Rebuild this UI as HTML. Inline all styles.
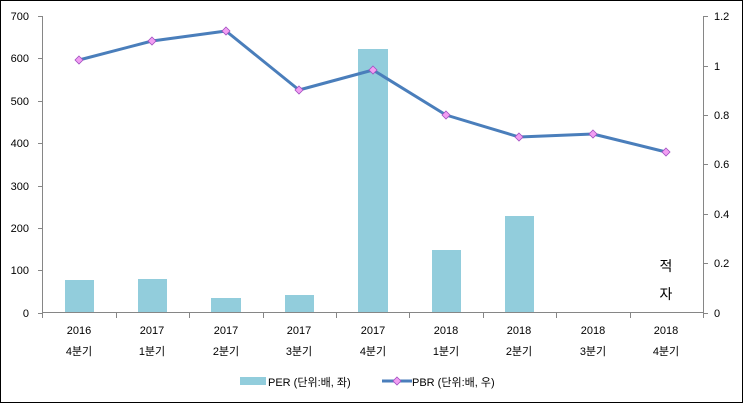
<!DOCTYPE html>
<html><head><meta charset="utf-8"><style>
body{margin:0;background:#fff}
svg text{font-family:"Liberation Sans","Noto Sans CJK KR",sans-serif;font-size:11px;fill:#000}
</style></head><body>
<svg width="743" height="403" xmlns="http://www.w3.org/2000/svg">
<rect x="0.5" y="0.5" width="742" height="402" fill="#fff" stroke="#000"/>
<g fill="#92cddc">
<rect x="65" y="280" width="29" height="33"/>
<rect x="138" y="279" width="29" height="34"/>
<rect x="211" y="298" width="30" height="15"/>
<rect x="285" y="295" width="29" height="18"/>
<rect x="358" y="49" width="30" height="264"/>
<rect x="432" y="250" width="29" height="63"/>
<rect x="505" y="216" width="29" height="97"/>
</g>
<g stroke="#868686" stroke-width="1" fill="none">
<path d="M42.5 16V313M38 16.5h5M38 58.5h5M38 101.5h5M38 143.5h5M38 186.5h5M38 228.5h5M38 270.5h5M38 313.5h5"/>
<path d="M703.5 16V313M703 16.5h5M703 66.5h5M703 115.5h5M703 164.5h5M703 214.5h5M703 263.5h5M703 313.5h5"/>
<path d="M42 312.5H704M42.5 312v6M116.5 312v6M189.5 312v6M263.5 312v6M336.5 312v6M409.5 312v6M483.5 312v6M556.5 312v6M630.5 312v6M703.5 312v6"/>
</g>
<g text-anchor="end">
<text x="29" y="20">700</text><text x="29" y="62">600</text><text x="29" y="105">500</text><text x="29" y="147">400</text><text x="29" y="190">300</text><text x="29" y="232">200</text><text x="29" y="274">100</text><text x="29" y="317">0</text>
</g>
<g>
<text x="714" y="20">1.2</text><text x="714" y="70">1</text><text x="714" y="119">0.8</text><text x="714" y="168">0.6</text><text x="714" y="218">0.4</text><text x="714" y="267">0.2</text><text x="714" y="317">0</text>
</g>
<g text-anchor="middle" font-size="12">
<text x="79" y="334">2016</text><text x="79" y="355">4분기</text>
<text x="152" y="334">2017</text><text x="152" y="355">1분기</text>
<text x="226" y="334">2017</text><text x="226" y="355">2분기</text>
<text x="299" y="334">2017</text><text x="299" y="355">3분기</text>
<text x="373" y="334">2017</text><text x="373" y="355">4분기</text>
<text x="446" y="334">2018</text><text x="446" y="355">1분기</text>
<text x="519" y="334">2018</text><text x="519" y="355">2분기</text>
<text x="593" y="334">2018</text><text x="593" y="355">3분기</text>
<text x="666" y="334">2018</text><text x="666" y="355">4분기</text>
<text x="666" y="271" style="font-size:14px">적</text>
<text x="666" y="299" style="font-size:14px">자</text>
</g>
<polyline points="79,60 152,41 226,31 299,90 373,70 446,115 519,137 593,134 666,152" fill="none" stroke="#4a7ebb" stroke-width="3" stroke-linejoin="round"/>
<g fill="#f29ef2" stroke="#a050c0" stroke-width="0.8">
<path d="M79 56l4 4-4 4-4-4z"/><path d="M152 37l4 4-4 4-4-4z"/><path d="M226 27l4 4-4 4-4-4z"/><path d="M299 86l4 4-4 4-4-4z"/><path d="M373 66l4 4-4 4-4-4z"/><path d="M446 111l4 4-4 4-4-4z"/><path d="M519 133l4 4-4 4-4-4z"/><path d="M593 130l4 4-4 4-4-4z"/><path d="M666 148l4 4-4 4-4-4z"/>
</g>
<rect x="240" y="377" width="26" height="8" fill="#92cddc"/>
<text x="268" y="386">PER (단위:배, 좌)</text>
<line x1="382" y1="381" x2="412" y2="381" stroke="#4a7ebb" stroke-width="3"/>
<path d="M397 377l4 4-4 4-4-4z" fill="#f29ef2" stroke="#a050c0" stroke-width="0.8"/>
<text x="412" y="386">PBR (단위:배, 우)</text>
</svg>
</body></html>
